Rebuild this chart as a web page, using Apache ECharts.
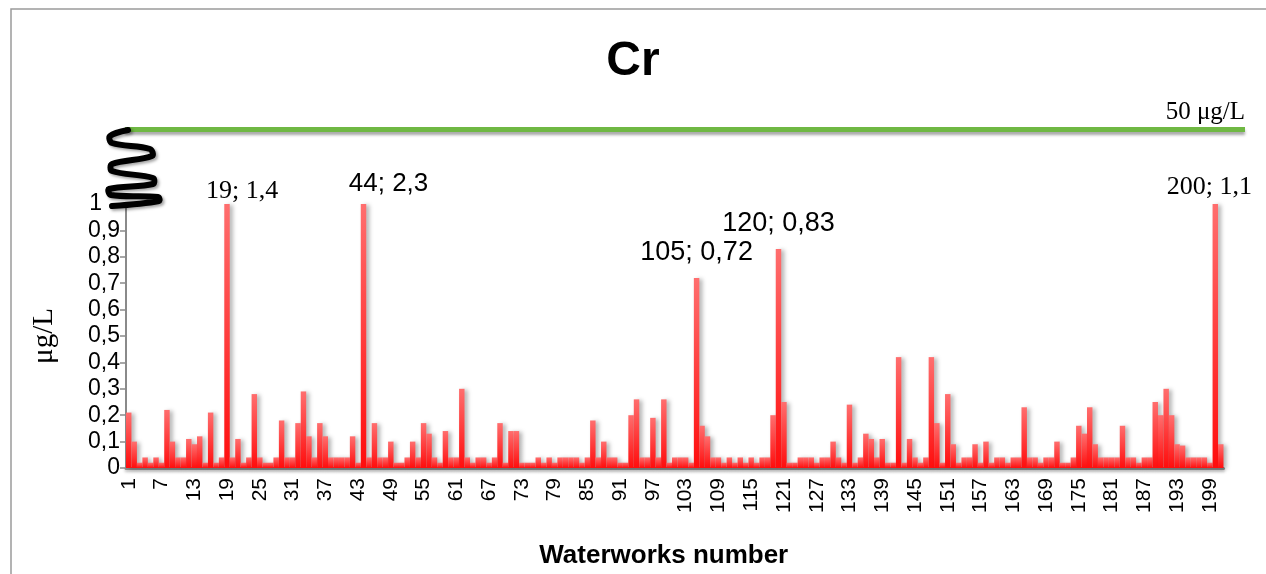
<!DOCTYPE html>
<html>
<head>
<meta charset="utf-8">
<title>Cr</title>
<script src="https://cdn.jsdelivr.net/npm/echarts@6/dist/echarts.min.js"></script>
<style>
  html, body { margin: 0; padding: 0; background: #fff; }
  #chart { width: 1266px; height: 574px; }
</style>
</head>
<body>
<div id="chart"></div>
<script>
// Cr concentration per waterworks (µg/L); values above the axis top are drawn clipped at 1
const waterworks = Array.from({ length: 201 }, (_, i) => String(i + 1));
const crValues = [
  0.21, 0.10, 0.02, 0.04, 0.02, 0.04, 0.02, 0.22, 0.10, 0.04,
  0.04, 0.11, 0.09, 0.12, 0.02, 0.21, 0.02, 0.04, 1.4, 0.04,
  0.11, 0.02, 0.04, 0.28, 0.04, 0.02, 0.02, 0.04, 0.18, 0.04,
  0.04, 0.17, 0.29, 0.12, 0.04, 0.17, 0.12, 0.04, 0.04, 0.04,
  0.04, 0.12, 0.02, 2.3, 0.04, 0.17, 0.04, 0.04, 0.10, 0.02,
  0.02, 0.04, 0.10, 0.04, 0.17, 0.13, 0.04, 0.02, 0.14, 0.04,
  0.04, 0.30, 0.04, 0.02, 0.04, 0.04, 0.02, 0.04, 0.17, 0.02,
  0.14, 0.14, 0.02, 0.02, 0.02, 0.04, 0.02, 0.04, 0.02, 0.04,
  0.04, 0.04, 0.04, 0.02, 0.04, 0.18, 0.04, 0.10, 0.04, 0.04,
  0.02, 0.02, 0.20, 0.26, 0.04, 0.04, 0.19, 0.04, 0.26, 0.02,
  0.04, 0.04, 0.04, 0.02, 0.72, 0.16, 0.12, 0.04, 0.04, 0.02,
  0.04, 0.02, 0.04, 0.02, 0.04, 0.02, 0.04, 0.04, 0.20, 0.83,
  0.25, 0.02, 0.02, 0.04, 0.04, 0.04, 0.02, 0.04, 0.04, 0.10,
  0.04, 0.02, 0.24, 0.02, 0.04, 0.13, 0.11, 0.04, 0.11, 0.02,
  0.02, 0.42, 0.02, 0.11, 0.04, 0.02, 0.04, 0.42, 0.17, 0.02,
  0.28, 0.09, 0.02, 0.04, 0.04, 0.09, 0.02, 0.10, 0.02, 0.04,
  0.04, 0.02, 0.04, 0.04, 0.23, 0.04, 0.04, 0.02, 0.04, 0.04,
  0.10, 0.02, 0.02, 0.04, 0.16, 0.13, 0.23, 0.09, 0.04, 0.04,
  0.04, 0.04, 0.16, 0.04, 0.04, 0.02, 0.04, 0.04, 0.25, 0.20,
  0.30, 0.20, 0.09, 0.085, 0.04, 0.04, 0.04, 0.04, 0.02, 1.1,
  0.09
];
// waterworks whose value is written next to the bar
const labelledWaterworks = ['19', '44', '105', '120', '200'];
const yTicksMax = 1;
const yTickStep = 0.1;
const guidelineValue = 50;
const guidelineText = '50 μg/L';

const commaNum = v => String(+v.toFixed(3)).replace('.', ',');

// label look per annotated bar: font, size and offset from the bar top
const annoStyle = {
  '19':  { font: 'Liberation Serif', size: 26, off: [15, -13] },
  '44':  { font: 'Liberation Sans',  size: 26, off: [25, -20] },
  '105': { font: 'Liberation Sans',  size: 27, off: [0, -25] },
  '120': { font: 'Liberation Sans',  size: 27, off: [0, -25] },
  '200': { font: 'Liberation Serif', size: 26, off: [-6, -17] }
};

const markData = labelledWaterworks.map(w => {
  const v = crValues[waterworks.indexOf(w)];
  const st = annoStyle[w];
  return {
    coord: [w, Math.min(v, yTicksMax)],
    symbolSize: 0,
    label: {
      show: true,
      position: 'inside',
      offset: st.off,
      formatter: w + '; ' + commaNum(v),
      fontFamily: st.font,
      fontSize: st.size,
      color: '#000'
    }
  };
});

const chart = echarts.init(document.getElementById('chart'), null, { renderer: 'canvas' });

chart.setOption({
  animation: false,
  backgroundColor: '#fff',
  title: {
    text: 'Cr',
    left: 'center',
    top: 33,
    textStyle: { fontFamily: 'Liberation Sans', fontWeight: 'bold', fontSize: 48, color: '#000' }
  },
  grid: [
    { left: 126, right: 42.5, top: 204, bottom: 106, containLabel: false, outerBoundsMode: 'none' },
    { left: 125, right: 21, top: 121.5, height: 16, containLabel: false, outerBoundsMode: 'none' }
  ],
  xAxis: [
    {
      gridIndex: 0,
      type: 'category',
      data: waterworks,
      boundaryGap: true,
      axisLine: { lineStyle: { color: '#8a8a8a', width: 3, shadowColor: 'rgba(0,0,0,0.25)', shadowBlur: 3, shadowOffsetY: 2 } },
      axisTick: { show: false },
      axisLabel: {
        interval: 5,
        rotate: 90,
        margin: 10,
        fontFamily: 'Liberation Sans',
        fontSize: 21,
        color: '#000'
      },
      name: 'Waterworks number',
      nameLocation: 'middle',
      nameGap: 75,
      nameTextStyle: { fontFamily: 'Liberation Sans', fontWeight: 'bold', fontSize: 26, color: '#000', padding: [0, 22, 0, 0] }
    },
    { gridIndex: 1, type: 'value', min: 0, max: 1, show: false }
  ],
  yAxis: [
    {
      gridIndex: 0,
      type: 'value',
      min: 0,
      max: yTicksMax,
      interval: yTickStep,
      axisLine: { show: true, lineStyle: { color: '#8a8a8a', width: 2 } },
      axisTick: { show: true, inside: false, length: 6, lineStyle: { color: '#8a8a8a', width: 1.5 } },
      splitLine: { show: false },
      axisLabel: {
        margin: 6,
        fontFamily: 'Liberation Sans',
        fontSize: 23,
        color: '#000',
        // the top tick label sits left of the axis-break spring
        formatter: v => (v >= yTicksMax ? '{top|' + commaNum(v) + '}' : commaNum(v)),
        rich: { top: { fontFamily: 'Liberation Sans', fontSize: 23, color: '#000', padding: [0, 18, 0, 0] } }
      },
      name: 'μg/L',
      nameLocation: 'middle',
      nameGap: 67,
      nameRotate: 90,
      nameTextStyle: { fontFamily: 'Liberation Serif', fontSize: 29, color: '#000' }
    },
    { gridIndex: 1, type: 'value', min: guidelineValue - 1, max: guidelineValue + 1, show: false }
  ],
  series: [
    {
      type: 'bar',
      xAxisIndex: 0,
      yAxisIndex: 0,
      data: crValues,
      clip: true,
      barCategoryGap: '0%',
      itemStyle: {
        color: new echarts.graphic.LinearGradient(0, 0, 0, 1, [
          { offset: 0, color: '#ff6e6e' },
          { offset: 1, color: '#ff0d0d' }
        ]),
        shadowColor: 'rgba(0,0,0,0.3)',
        shadowBlur: 4,
        shadowOffsetX: 3,
        shadowOffsetY: 1
      },
      markPoint: {
        symbol: 'circle',
        symbolSize: 0,
        itemStyle: { color: 'rgba(0,0,0,0)' },
        data: markData
      }
    },
    {
      // drinking-water limit line
      type: 'line',
      xAxisIndex: 1,
      yAxisIndex: 1,
      data: [],
      markLine: {
        silent: true,
        symbol: ['none', 'none'],
        lineStyle: {
          type: 'solid',
          color: '#6fb843',
          width: 5,
          shadowColor: 'rgba(0,0,0,0.35)',
          shadowBlur: 3,
          shadowOffsetY: 3
        },
        label: {
          show: true,
          position: 'insideEndTop',
          distance: [0, 5],
          formatter: guidelineText,
          fontFamily: 'Liberation Serif',
          fontSize: 25,
          color: '#000'
        },
        data: [{ yAxis: guidelineValue }]
      }
    }
  ],
  graphic: [
    {
      type: 'rect',
      silent: true,
      shape: { x: 11, y: 9, width: 1300, height: 620 },
      style: { fill: 'none', stroke: '#9a9a9a', lineWidth: 1.5 },
      z: -1
    },
    {
      // axis-break spring between the limit line and the value axis
      type: 'polyline',
      silent: true,
      shape: {
        points: [[128, 130], [110, 136], [112, 143], [150, 149], [152, 156], [112, 164], [112, 171], [153, 178], [153, 184], [109, 189], [111, 195], [158, 197], [159, 201], [112, 206]],
        smooth: 0.35
      },
      style: {
        stroke: '#000',
        lineWidth: 6,
        fill: 'none',
        lineCap: 'round',
        shadowColor: 'rgba(0,0,0,0.35)',
        shadowBlur: 3,
        shadowOffsetX: 2,
        shadowOffsetY: 2
      },
      z: 10
    }
  ]
});
</script>
</body>
</html>
